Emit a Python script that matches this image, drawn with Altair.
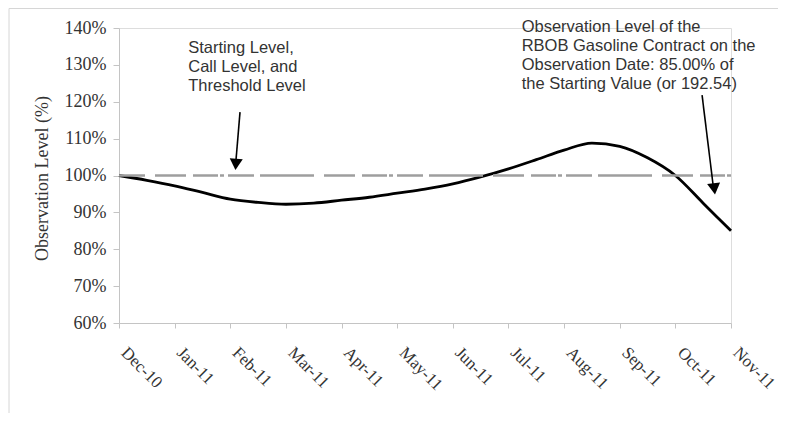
import altair as alt
import pandas as pd

# ---- data ----
months = ["Dec-10", "Jan-11", "Feb-11", "Mar-11", "Apr-11", "May-11", "Jun-11",
          "Jul-11", "Aug-11", "Sep-11", "Oct-11", "Nov-11"]
t_vals = [0, 0.5, 1, 1.5, 2, 2.5, 3, 3.5, 4, 4.5, 5, 5.5, 6, 6.5, 7, 7.5, 8,
          8.5, 9, 9.5, 10, 10.5, 11]
level = [100.0, 98.7, 97.2, 95.4, 93.6, 92.7, 92.2, 92.5, 93.3, 94.1, 95.2,
         96.3, 97.7, 99.6, 101.8, 104.3, 106.9, 108.8, 107.9, 104.8, 100.0,
         92.5, 85.0]
ref_level = 100
y_ticks = [60, 70, 80, 90, 100, 110, 120, 130, 140]

note_text = ["Starting Level,\nCall Level, and\nThreshold Level",
             "Observation Level of the\nRBOB Gasoline Contract on the\n"
             "Observation Date: 85.00% of\nthe Starting Value (or 192.54)"]
note_x = [1.245, 7.237]
note_y = [133.1, 138.8]

arrow_x0 = [2.175, 10.48]
arrow_y0 = [117.2, 121.8]
arrow_x1 = [2.103, 10.676]
arrow_y1 = [104.2, 97.7]
head_x = [2.100, 10.70]
head_y = [103.0, 96.4]
head_angle = [4, 353]

# ---- tables ----
curve = pd.DataFrame({"t": t_vals, "level": level})
ref = pd.DataFrame({"t0": [0], "t1": [len(months) - 1], "v": [ref_level]})
notes = pd.DataFrame({"x": note_x, "y": note_y, "text": note_text})
arrows = pd.DataFrame({"x0": arrow_x0, "y0": arrow_y0, "x1": arrow_x1, "y1": arrow_y1,
                       "hx": head_x, "hy": head_y, "ang": head_angle})
one = pd.DataFrame({"a": [0]})

label_list = "[" + ",".join("'" + m + "'" for m in months) + "]"

xscale = alt.Scale(domain=[0, len(months) - 1], nice=False, zero=False)
yscale = alt.Scale(domain=[60, 140], nice=False, zero=False)

x_axis = alt.Axis(values=list(range(len(months))), labelExpr=label_list + "[datum.value]",
                  title=None, grid=False, labelAngle=45, labelFont="Liberation Serif",
                  labelFontSize=17, labelColor="#333", labelPadding=16, labelOffset=10,
                  labelOverlap=False, labelBound=False,
                  tickSize=5, tickColor="#c4c4c4", domainColor="#c4c4c4")
y_axis = alt.Axis(values=y_ticks, labelExpr="datum.value + '%'", grid=False,
                  title="Observation Level (%)", titleFont="Liberation Serif",
                  titleFontSize=18, titleFontWeight="normal", titleColor="#333",
                  titleX=-77, titleY=150, titleAlign="center", titleBaseline="middle",
                  titleAngle=270, labelOverlap=False, labelBound=False,
                  labelFont="Liberation Serif", labelFontSize=18, labelColor="#333",
                  labelPadding=7, tickSize=6, tickColor="#c4c4c4", domainColor="#c4c4c4")

base_line = alt.Chart(curve).mark_line(color="black", strokeWidth=2.8,
                                       interpolate="monotone").encode(
    x=alt.X("t:Q", scale=xscale, axis=x_axis),
    y=alt.Y("level:Q", scale=yscale, axis=y_axis),
)

ref_rule = alt.Chart(ref).mark_rule(color="#9e9e9e", strokeWidth=2.5,
                                    strokeDash=[54, 10, 31, 7, 25, 2, 4, 4, 26, 6],
                                    strokeDashOffset=28).encode(
    x=alt.X("t0:Q", scale=xscale, axis=x_axis), x2="t1:Q",
    y=alt.Y("v:Q", scale=yscale, axis=y_axis)
)

note_marks = alt.Chart(notes).mark_text(align="left", baseline="alphabetic",
                                        font="Liberation Sans", fontSize=16.5,
                                        color="#333", lineBreak="\n",
                                        lineHeight=19).encode(
    x=alt.X("x:Q", scale=xscale, axis=x_axis),
    y=alt.Y("y:Q", scale=yscale, axis=y_axis), text="text:N"
)

shafts = alt.Chart(arrows).mark_rule(color="black", strokeWidth=1.6).encode(
    x=alt.X("x0:Q", scale=xscale, axis=x_axis), y=alt.Y("y0:Q", scale=yscale, axis=y_axis),
    x2="x1:Q", y2="y1:Q"
)
heads = alt.Chart(arrows).mark_point(shape="triangle-down", filled=True, size=170,
                                     color="black", opacity=1).encode(
    x=alt.X("hx:Q", scale=xscale, axis=x_axis), y=alt.Y("hy:Q", scale=yscale, axis=y_axis),
    angle=alt.Angle("ang:Q", scale=None)
)

border_left = alt.Chart(one).mark_rule(color="#d6d6d6", strokeWidth=1).encode(
    x=alt.value(-110), y=alt.value(-19.5), y2=alt.value(385))
border_top = alt.Chart(one).mark_rule(color="#d6d6d6", strokeWidth=1).encode(
    x=alt.value(-110), x2=alt.value(659), y=alt.value(-19.5))

chart = alt.layer(base_line, border_left, border_top, ref_rule, note_marks, shafts,
                  heads).properties(
    width=612, height=295,
    padding={"left": 111, "top": 20, "right": 47, "bottom": 90},
    autosize=alt.AutoSizeParams(type="none"),
).configure_view(stroke=None).configure(background="white")

chart.save("out.html", embed_options={"renderer": "svg", "actions": False})
